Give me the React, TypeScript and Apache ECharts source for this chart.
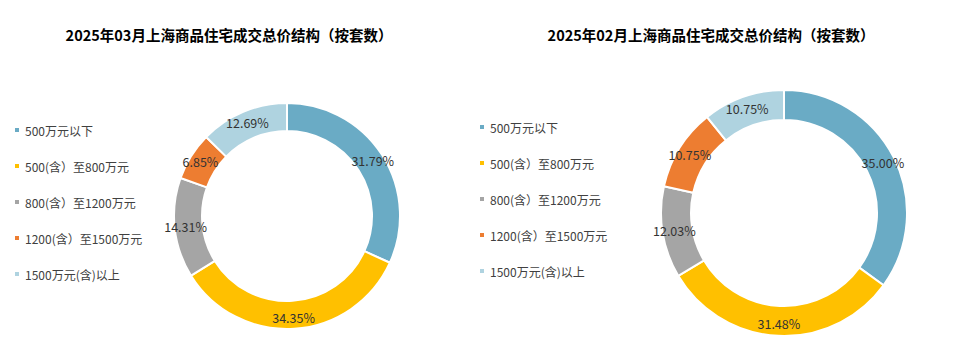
import React, { useEffect, useRef } from "react";
import * as echarts from "echarts";

const categories = [
  "500万元以下",
  "500(含）至800万元",
  "800(含）至1200万元",
  "1200(含）至1500万元",
  "1500万元(含)以上",
];
const marchValues = [31.79, 34.35, 14.31, 6.85, 12.69];
const febValues = [35.0, 31.48, 12.03, 10.75, 10.75];
const colors = ["#6AABC5", "#FFC000", "#A5A5A5", "#ED7D31", "#AFD3E0"];
const titles = [
  "2025年03月上海商品住宅成交总价结构（按套数）",
  "2025年02月上海商品住宅成交总价结构（按套数）",
];

const FONT = "'Noto Sans CJK SC', 'Noto Sans', sans-serif";

export default function App() {
  const ref = useRef<HTMLDivElement>(null);
  useEffect(() => {
    if (!ref.current) return;
    const chart = echarts.init(ref.current, undefined, { renderer: "svg" });
    const mkData = (vals: number[]) =>
      categories.map((c, i) => ({ name: c, value: vals[i] }));
    const legendBase = {
      orient: "vertical" as const,
      icon: "rect",
      itemWidth: 6,
      itemHeight: 6,
      itemGap: 24,
      padding: 0,
      data: categories,
      textStyle: { fontSize: 12, color: "#404040", fontFamily: FONT },
      selectedMode: false,
    };
    const seriesBase = {
      type: "pie" as const,
      startAngle: 90,
      clockwise: true,
      avoidLabelOverlap: false,
      itemStyle: { borderColor: "#fff", borderWidth: 2 },
      label: {
        show: true,
        position: "inside",
        color: "#333",
        fontSize: 12.5,
        fontFamily: FONT,
        formatter: (p: any) => Number(p.value).toFixed(2) + "%",
      },
      labelLine: { show: false },
      emphasis: { disabled: true },
    };
    const titleStyle = { fontSize: 14.5, fontWeight: "bold", color: "#000", fontFamily: FONT };
    chart.setOption({
      animation: false,
      backgroundColor: "#ffffff",
      color: colors,
      title: [
        { text: titles[0], left: 224, top: 22, textAlign: "center", textStyle: titleStyle },
        { text: titles[1], left: 706, top: 22, textAlign: "center", textStyle: titleStyle },
      ],
      legend: [
        { ...legendBase, left: 13, top: 124 },
        { ...legendBase, left: 478, top: 121 },
      ],
      series: [
        { ...seriesBase, name: "3月", center: [287, 216], radius: [85, 113], data: mkData(marchValues) },
        { ...seriesBase, name: "2月", center: [784, 213], radius: [93, 123], data: mkData(febValues) },
      ],
    });
    return () => chart.dispose();
  }, []);
  return (
    <div
      ref={ref}
      style={{ position: "fixed", left: 0, top: 0, width: 960, height: 353 }}
    />
  );
}
